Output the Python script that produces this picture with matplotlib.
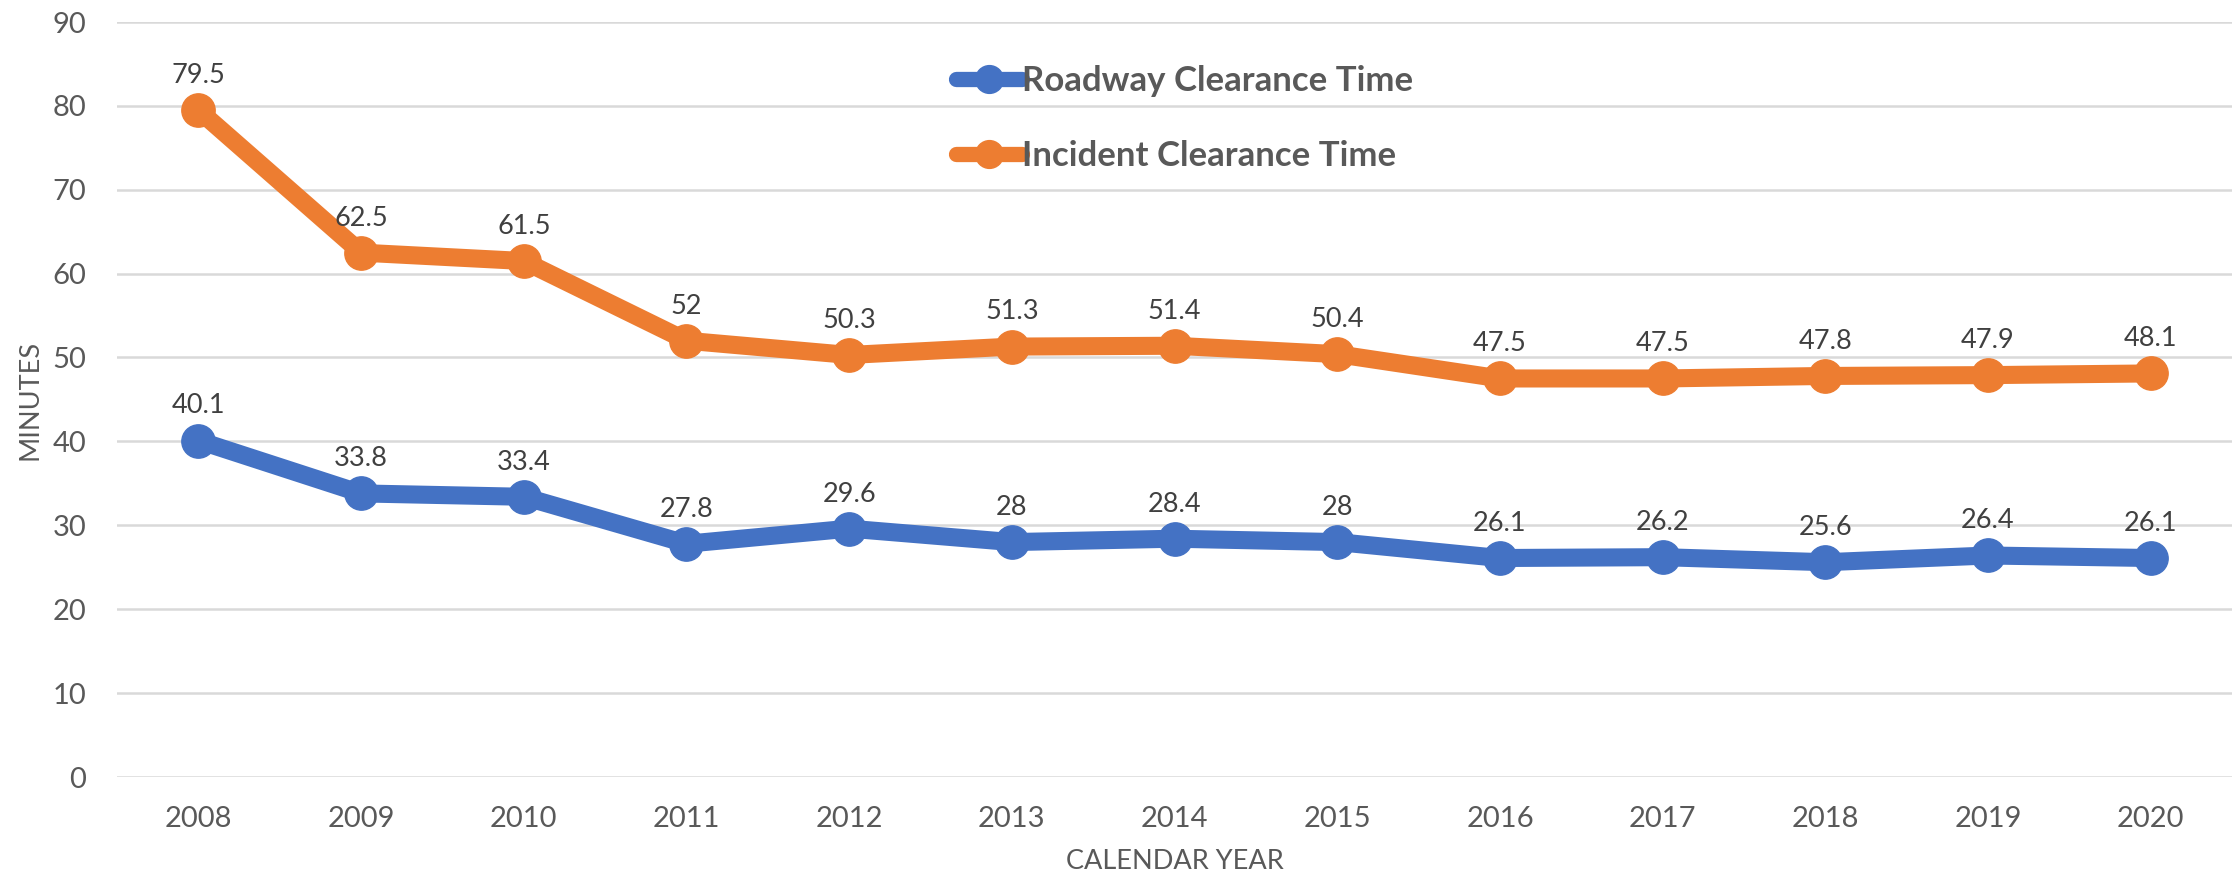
import matplotlib
matplotlib.use("Agg")
import matplotlib.pyplot as plt

plt.rcParams['font.family'] = ['Lato', 'DejaVu Sans']

years = [2008, 2009, 2010, 2011, 2012, 2013, 2014, 2015, 2016, 2017, 2018, 2019, 2020]
roadway = [40.1, 33.8, 33.4, 27.8, 29.6, 28, 28.4, 28, 26.1, 26.2, 25.6, 26.4, 26.1]
incident = [79.5, 62.5, 61.5, 52, 50.3, 51.3, 51.4, 50.4, 47.5, 47.5, 47.8, 47.9, 48.1]
series_names = ["Roadway Clearance Time", "Incident Clearance Time"]
yticks = [0, 10, 20, 30, 40, 50, 60, 70, 80, 90]

BLUE = "#4472C4"
ORANGE = "#ED7D31"
GRID = "#D9D9D9"
TICK = "#595959"
LABEL = "#404040"

W, H = 2232, 879
fig = plt.figure(figsize=(W / 100 + 0.001, H / 100 + 0.001), dpi=100)
ax = fig.add_axes([117 / W, 1 - 777 / H, (W - 117) / W, (777 - 22) / H])

x = list(range(len(years)))
lines = []
for vals, col, name in [(roadway, BLUE, series_names[0]), (incident, ORANGE, series_names[1])]:
    ln, = ax.plot(x, vals, color=col, lw=13, marker='o', ms=24, solid_capstyle='round',
                  solid_joinstyle='round', label=name, clip_on=False, zorder=3)
    lines.append(ln)
    for xi, v in zip(x, vals):
        ax.annotate(f"{v:g}", (xi, v), xytext=(0, 25), textcoords='offset points',
                    ha='center', va='center', fontsize=19.5, color=LABEL, zorder=4)

ax.set_xlim(-0.5, len(years) - 0.5)
ax.set_ylim(0, 90)
ax.set_yticks(yticks)
ax.set_xticks(x)
ax.set_xticklabels([str(y) for y in years])
ax.grid(axis='y', color=GRID, lw=1.8)
ax.set_axisbelow(True)
for s in ax.spines.values():
    s.set_visible(False)
ax.tick_params(axis='both', length=0, labelsize=21, colors=TICK)
ax.tick_params(axis='y', pad=22)
ax.tick_params(axis='x', pad=21)

ax.set_xlabel("CALENDAR YEAR", fontsize=19.5, color=TICK, labelpad=12)
fig.text(30 / W, 1 - 400 / H, "MINUTES", rotation=90, fontsize=19.5, color=TICK,
         ha='center', va='center')

leg = fig.legend(handles=lines, loc='center left', bbox_to_anchor=(956 / W, 1 - 118.5 / H),
                 frameon=False, handlelength=1.9, handletextpad=0.0,
                 labelspacing=1.25, borderpad=0, borderaxespad=0, numpoints=1,
                 prop={'weight': 'bold', 'size': 25})
for t in leg.get_texts():
    t.set_color(TICK)
for h in leg.legend_handles:
    h.set_markersize(20)
    h.set_linewidth(11)

fig.savefig("out.png", dpi=100)
